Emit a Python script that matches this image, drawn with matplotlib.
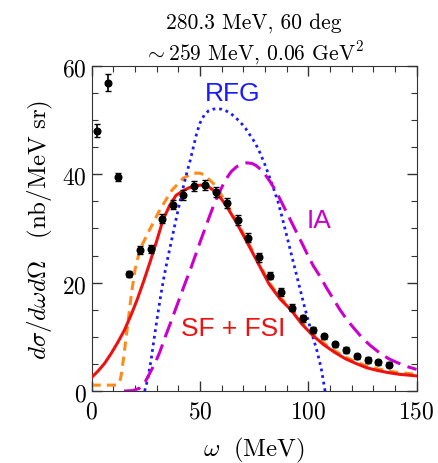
import matplotlib
matplotlib.use("Agg")
import matplotlib.pyplot as plt
from matplotlib.ticker import MultipleLocator, FuncFormatter

plt.rcParams["mathtext.fontset"] = "cm"
plt.rcParams["axes.unicode_minus"] = False

# measured cross section (omega in MeV, nb/MeV sr)
omega_data = [2.4, 7.4, 12.4, 17.4, 22.4, 27.4, 32.4, 37.4, 42.4, 47.4, 52.4, 57.4, 62.4, 67.4,
              72.4, 77.4, 82.4, 87.4, 92.4, 97.4, 102.4, 107.4, 112.4, 117.4, 122.4, 127.4,
              132.4, 137.4]
xsec_data = [48.0, 56.9, 39.5, 21.6, 26.0, 26.2, 31.8, 34.4, 36.2, 37.9, 38.0, 36.7, 34.7, 31.5,
             28.3, 24.7, 21.3, 18.3, 15.4, 13.4, 11.3, 10.1, 8.6, 7.6, 6.4, 5.7, 5.3, 4.9]
xsec_err = [1.2, 1.6, 0.7, 0.5, 0.7, 0.7, 0.8, 0.8, 0.9, 0.9, 0.9, 0.9, 0.9, 0.9,
            0.8, 0.8, 0.7, 0.7, 0.6, 0.6, 0.6, 0.5, 0.5, 0.5, 0.5, 0.5, 0.4, 0.4]

# SF + FSI (solid)
omega_sf_fsi = [0, 3, 6, 9, 12, 15, 18, 21, 24, 27, 30, 33, 36, 39, 42, 45, 48, 51, 54, 57, 60,
                62, 67, 72, 77, 82, 87, 92, 97, 102, 107, 112, 117, 122, 127, 132, 137, 142, 150]
xsec_sf_fsi = [2.5, 3.7, 5.1, 6.9, 8.9, 11.1, 13.8, 16.8, 20.2, 23.8, 27.6, 31.6, 34.2, 36.1,
               36.9, 37.5, 37.9, 38.0, 37.7, 36.8, 35.4, 34.3, 31.0, 27.3, 23.5, 19.7, 17.0,
               15.0, 12.4, 10.3, 8.6, 7.2, 6.0, 5.1, 4.3, 3.8, 3.4, 3.1, 2.8]

# SF without FSI (orange dashed)
omega_sf = [0, 11.5, 12.5, 13.3, 13.9, 15.5, 17.0, 18.5, 20.1, 22.4, 26.2, 31.6, 37.0, 42.4,
            47.0, 50.0, 52.0, 56.2, 59.3, 62, 67, 72, 77, 82, 87, 92, 97, 102, 107, 112, 117,
            122, 127, 132, 137, 142, 150]
xsec_sf = [1.1, 1.1, 1.4, 2.2, 3.4, 8.4, 13.3, 18.2, 22.5, 26.2, 29.3, 33.5, 37.0, 39.3,
           40.2, 40.2, 39.9, 38.3, 36.6, 34.8, 31.3, 27.6, 23.8, 20.0, 17.3, 15.3, 12.7, 10.6,
           8.9, 7.5, 6.3, 5.4, 4.6, 4.1, 3.7, 3.4, 3.1]

# relativistic Fermi gas (dotted)
omega_rfg = [24.5, 26.0, 27.5, 29.0, 30.5, 32.0, 33.5, 35.0, 36.5, 38.0, 39.5, 41.0, 42.5, 44.0,
             45.5, 47.0, 48.5, 50.0, 52.0, 54.0, 56.0, 58.0, 60.0, 62.0, 64.0, 66.0, 68.5, 71.0,
             73.0, 75.5, 77.8, 80.0, 82.0, 84.0, 86.0, 88.0, 90.0, 92.0, 94.0, 96.0, 98.0,
             100.0, 102.0, 104.0, 106.0, 107.8]
xsec_rfg = [0.0, 2.3, 5.8, 10.0, 14.0, 17.8, 21.2, 24.2, 27.0, 29.8, 32.6, 35.3, 37.9, 40.3,
            42.5, 45.0, 47.5, 49.4, 50.9, 51.7, 52.0, 52.1, 52.0, 51.7, 51.3, 50.6, 49.7, 48.5,
            47.3, 45.8, 43.9, 41.8, 39.6, 37.4, 35.0, 32.0, 28.8, 25.6, 22.4, 19.2, 16.0, 13.0,
            10.2, 7.5, 4.2, 0.0]

# impulse approximation (long dashes)
omega_ia = [15, 19, 22, 24.5, 27, 29.5, 31.6, 34, 36.2, 38.5, 40.8, 43, 45.5, 48, 50.1, 52.5,
            54.7, 56.7, 58.5, 60.5, 62.4, 64.5, 67, 69.5, 71.6, 74, 76, 78, 80, 82, 84, 86.5,
            88.5, 91, 93.1, 95.5, 97.7, 100, 102.5, 105.4, 108.5, 111.6, 114.5, 117.8, 121.5,
            125.4, 129, 133.1, 137, 140.8, 145, 150]
xsec_ia = [0.0, 0.1, 0.5, 1.5, 3.4, 5.3, 7.3, 10.0, 12.3, 14.8, 17.3, 19.7, 22.3, 25.1, 27.5,
           30.1, 32.5, 34.6, 36.2, 37.9, 39.3, 40.5, 41.4, 41.9, 42.1, 42.0, 41.6, 40.9, 40.0,
           38.9, 37.6, 35.8, 34.2, 32.2, 30.5, 28.6, 26.8, 24.9, 23.0, 21.2, 19.0, 17.0, 15.1,
           13.2, 11.4, 9.6, 8.3, 7.0, 6.0, 5.3, 4.6, 4.0]

RED = "#ee1111"
ORANGE = "#ff8c1a"
BLUE = "#1a1aff"
MAGENTA = "#cc00cc"

fig = plt.figure(figsize=(4.38, 4.64), dpi=100)
ax = fig.add_axes([0.209, 0.155, 0.742, 0.701])

ax.plot(omega_sf, xsec_sf, color=ORANGE, lw=2.2, dashes=(3, 2), zorder=2)
ax.plot(omega_sf_fsi, xsec_sf_fsi, color=RED, lw=2.2, zorder=3)
ax.plot(omega_rfg, xsec_rfg, color=BLUE, lw=2.0, linestyle=(0, (1, 1.4)), zorder=2)
ax.plot(omega_ia, xsec_ia, color=MAGENTA, lw=2.2, dashes=(5.5, 2.5), zorder=2)
ax.errorbar(omega_data, xsec_data, yerr=xsec_err, fmt="o", color="black", ms=4.8,
            capsize=2.5, elinewidth=1.2, capthick=1.0, zorder=4)

lab = dict(fontsize=19, family="Liberation Sans", ha="center", va="center")
ax.text(65, 55, "RFG", color=BLUE, **lab)
ax.text(105, 31.5, "IA", color=MAGENTA, **lab)
ax.text(65.5, 11.6, "SF + FSI", color=RED, **lab)

ax.set_xlim(0, 150)
ax.set_ylim(0, 60)
ax.xaxis.set_major_locator(MultipleLocator(50))
ax.xaxis.set_minor_locator(MultipleLocator(10))
ax.yaxis.set_major_locator(MultipleLocator(20))
ax.yaxis.set_minor_locator(MultipleLocator(5))
cm_fmt = FuncFormatter(lambda v, pos: f"$\\mathrm{{{v:g}}}$")
ax.xaxis.set_major_formatter(cm_fmt)
ax.yaxis.set_major_formatter(cm_fmt)
ax.tick_params(which="both", direction="in", top=True, right=True, colors="#333333",
               labelcolor="black", labelsize=17)
ax.tick_params(which="major", length=7, width=1)
ax.tick_params(which="minor", length=4, width=0.8)
ax.tick_params(axis="x", pad=5)
for s in ax.spines.values():
    s.set_color("#333333")

ax.set_xlabel(r"$\omega\ \ (\mathrm{MeV})$", fontsize=18, labelpad=9)
ax.set_ylabel(r"$d\sigma/d\omega d\Omega\quad(\mathrm{nb/MeV\ sr})$", fontsize=18, labelpad=5)
ax.set_title("280.3 MeV, 60 deg\n" + r"$\sim 259$ MeV, 0.06 GeV$^2$", fontsize=15.5,
             family="cmr10", pad=5, linespacing=1.3)

fig.savefig("out.png", dpi=100)
